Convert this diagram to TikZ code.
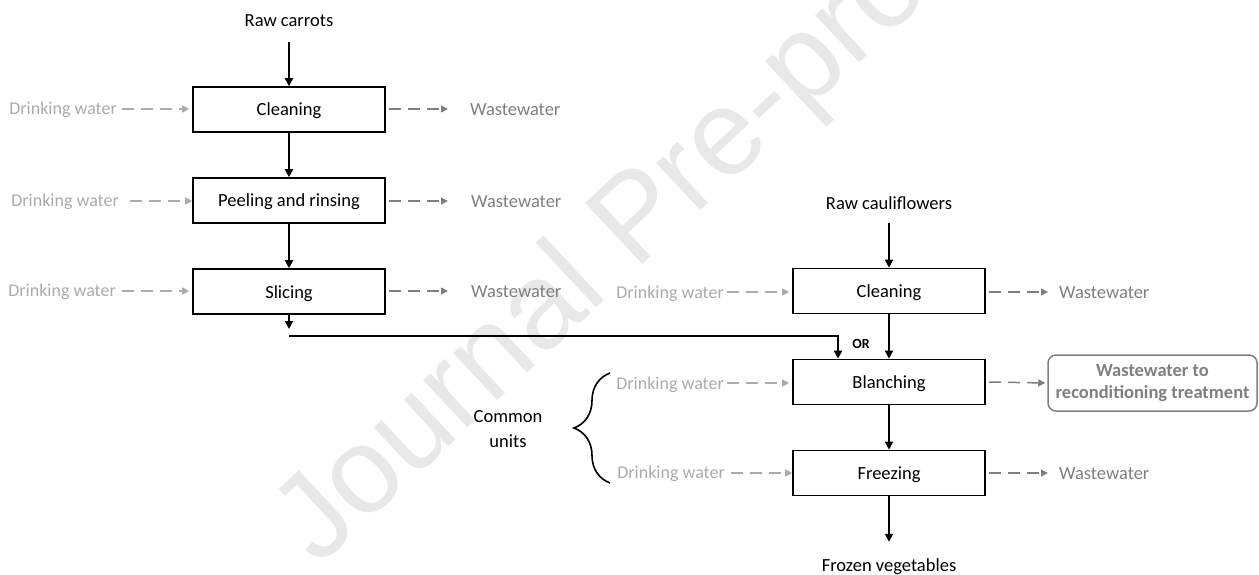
\documentclass[tikz,border=0pt]{standalone}
\usepackage{fontspec}
\setmainfont{Carlito}
\newfontfamily\wmfont{Liberation Sans}
\usetikzlibrary{arrows.meta,decorations.pathreplacing}
\definecolor{dwgray}{HTML}{ABABAB}
\definecolor{wwgray}{HTML}{7F7F7F}
\definecolor{wmgray}{HTML}{E8E8E8}
\begin{document}
\begin{tikzpicture}[x=1pt,y=-1pt,
  font=\fontsize{18.5}{21}\selectfont,
  proc/.style={draw=black,line width=1.6pt,minimum width=192pt,minimum height=45pt,inner sep=0pt,anchor=center,text height=17pt,text depth=4pt},
  lbl/.style={inner sep=0pt,text=black},
  dwtext/.style={inner sep=0pt,text=dwgray,font=\fontsize{18}{21}\selectfont},
  wwtext/.style={inner sep=0pt,text=wwgray},
  flow/.style={draw=black,line width=1.8pt,-{Triangle[length=8pt,width=8pt]}},
  dwarrow/.style={draw=dwgray,line width=1.5pt,dash pattern=on 12pt off 7pt,-{Triangle[length=7pt,width=7pt]}},
  wwarrow/.style={draw=wwgray,line width=1.5pt,dash pattern=on 12pt off 7pt,-{Triangle[length=7pt,width=7pt]}},
]
\useasboundingbox (0,0) rectangle (1259,575);
% watermark
\begin{scope}
\clip (0,0) rectangle (1259,575);
\node[rotate=43,anchor=base west,inner sep=0pt,text=wmgray,font=\wmfont\fontsize{122}{122}\selectfont] (wm) at (318,568) {Journal Pre-proof};
\end{scope}

% left column
\node[lbl] (rc) at (289,21) {Raw carrots};
\node[proc] (c1) at (289,109.5) {Cleaning};
\node[proc] (p1) at (289,200.5) {Peeling and rinsing};
\node[proc] (s1) at (289,291.5) {Slicing};

\draw[flow,shorten <=15pt] (rc) -- (c1);
\draw[flow] (c1) -- (p1);
\draw[flow] (p1) -- (s1);

\node[dwtext,anchor=east] (dw1) at (117,110) {Drinking water};
\node[dwtext,anchor=east] (dw2) at (119,202) {Drinking water};
\node[dwtext,anchor=east] (dw3) at (116,292) {Drinking water};
\draw[dwarrow,shorten <=5pt,shorten >=3pt] (dw1.east |- 0,109) -- (c1.west |- 0,109);
\draw[dwarrow,shorten <=11pt] (dw2.east |- 0,201) -- (p1.west |- 0,201);
\draw[dwarrow,shorten <=6pt,shorten >=3pt] (dw3.east |- 0,291) -- (s1.west |- 0,291);

\node[wwtext,anchor=west] (ww1) at (470,110) {Wastewater};
\node[wwtext,anchor=west] (ww2) at (471,202) {Wastewater};
\node[wwtext,anchor=west] (ww3) at (471,292) {Wastewater};
\draw[wwarrow,shorten <=3pt,shorten >=22pt] (c1.east |- 0,109) -- (ww1.west |- 0,109);
\draw[wwarrow,shorten <=3pt,shorten >=23pt] (p1.east |- 0,201) -- (ww2.west |- 0,201);
\draw[wwarrow,shorten <=3pt,shorten >=23pt] (s1.east |- 0,291) -- (ww3.west |- 0,291);

% right column
\node[lbl] (rcf) at (889,203) {Raw cauliflowers};
\node[proc] (c2) at (889,291) {Cleaning};
\node[proc] (b2) at (889,382) {Blanching};
\node[proc] (f2) at (889,473) {Freezing};
\node[lbl] (fv) at (889,567) {Frozen vegetables};

\draw[flow,shorten <=13pt] (rcf) -- (c2);
\draw[flow] (c2) -- (b2);
\draw[flow] (b2) -- (f2);
\draw[flow,shorten >=17pt] (f2) -- (fv);

% carrot line to blanching
\coordinate (jn) at (289,329);
\coordinate (jn2) at (289,336);
\draw[flow] (s1) -- (jn);
\draw[flow] (jn2) -| ([xshift=-51pt]b2.north);
\node[lbl,font=\bfseries\fontsize{14}{16}\selectfont] (or) at (861,344) {OR};

\node[dwtext,anchor=east] (dw4) at (724,294) {Drinking water};
\node[dwtext,anchor=east] (dw5) at (724,385) {Drinking water};
\node[dwtext,anchor=east] (dw6) at (725,474) {Drinking water};
\draw[dwarrow,shorten <=3pt,shorten >=3pt] (dw4.east |- 0,292) -- (c2.west |- 0,292);
\draw[dwarrow,shorten <=3pt,shorten >=3pt] (dw5.east |- 0,383) -- (b2.west |- 0,383);
\draw[dwarrow,shorten <=6pt] (dw6.east |- 0,473) -- (f2.west |- 0,473);

\node[wwtext,anchor=west] (ww4) at (1059,293) {Wastewater};
\node[draw=wwgray,line width=1.5pt,rounded corners=8pt,minimum width=209pt,minimum height=56pt,inner sep=0pt,align=center,text=wwgray,font=\bfseries\fontsize{18.5}{22}\selectfont] (ww5) at (1152.5,383) {Wastewater to\\reconditioning treatment};
\node[wwtext,anchor=west] (ww6) at (1059,474) {Wastewater};
\draw[wwarrow,shorten <=3pt,shorten >=11pt] (c2.east |- 0,292) -- (ww4.west |- 0,292);
\draw[wwarrow,shorten <=3pt,shorten >=2pt] (b2.east) -- (ww5.west);
\draw[wwarrow,shorten <=3pt,shorten >=11pt] (f2.east |- 0,473) -- (ww6.west |- 0,473);

% common units
\node[lbl,align=center,font=\fontsize{18.5}{25}\selectfont] (cu) at (508,429) {Common\\units};
\coordinate (bt) at (610,373);
\coordinate (bb) at (610,483);
\draw[line width=1.6pt,decorate,decoration={brace,amplitude=36pt}] (bb) -- (bt);
\end{tikzpicture}
\end{document}
